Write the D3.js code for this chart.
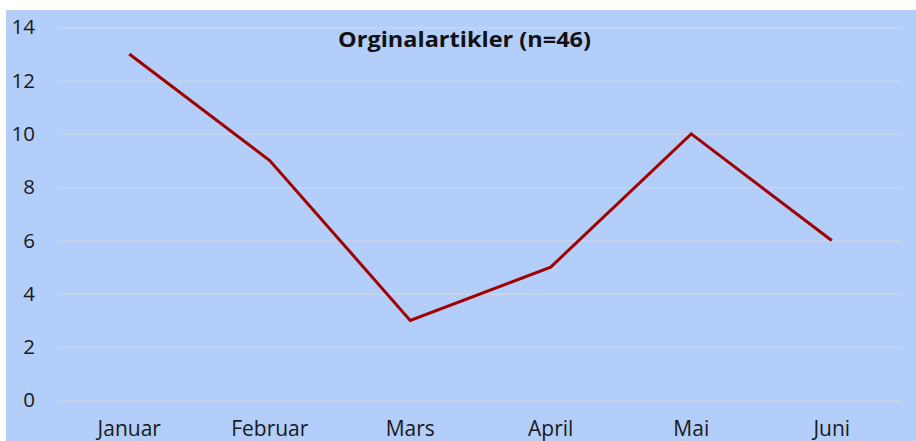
<!DOCTYPE html>
<html><head><meta charset="utf-8">
<script src="https://cdn.jsdelivr.net/npm/d3@7"></script>
<style>html,body{margin:0;padding:0;background:#fff;overflow:hidden}</style>
</head><body>
<svg id="c" width="916" height="441"></svg>
<script>
const categories = ["Januar","Februar","Mars","April","Mai","Juni"];
const values = [13, 9, 3, 5, 10, 6];
const yTicks = [0, 2, 4, 6, 8, 10, 12, 14];
const title = "Orginalartikler (n=46)";

const svg = d3.select("#c");
const font = "'Open Sans', sans-serif";
svg.append("rect").attr("x", 6).attr("y", 10).attr("width", 910).attr("height", 431).attr("fill", "#b3cefb");

const x = d3.scaleBand().domain(categories).range([59, 902]);
const y = d3.scaleLinear().domain([0, 14]).range([400.3, 27.3]);

const gy = svg.append("g").attr("transform", "translate(59,0)")
  .call(d3.axisLeft(y).tickValues(yTicks).tickSize(-843).tickPadding(24));
gy.select(".domain").remove();
gy.selectAll(".tick line").attr("stroke", "#cdd5e6").attr("stroke-width", 1.3);
gy.selectAll(".tick text").attr("font-family", font).attr("font-size", 20.5).attr("fill", "#1a1a1a");

const gx = svg.append("g").attr("transform", "translate(0,400.3)")
  .call(d3.axisBottom(x).tickSize(0).tickPadding(21));
gx.select(".domain").remove();
gx.selectAll(".tick text").attr("font-family", font).attr("font-size", 21).attr("fill", "#1a1a1a");

const line = d3.line().x((d, i) => x(categories[i]) + x.bandwidth() / 2).y(d => y(d));
svg.append("path").datum(values).attr("d", line).attr("fill", "none")
  .attr("stroke", "#a00000").attr("stroke-width", 3).attr("stroke-linejoin", "miter");

svg.append("text").attr("x", 464.5).attr("y", 47).attr("text-anchor", "middle")
  .attr("font-family", font).attr("font-weight", "bold").attr("font-size", 22).attr("fill", "#111")
  .attr("textLength", 253).attr("lengthAdjust", "spacingAndGlyphs")
  .text(title);
</script>
</body></html>
